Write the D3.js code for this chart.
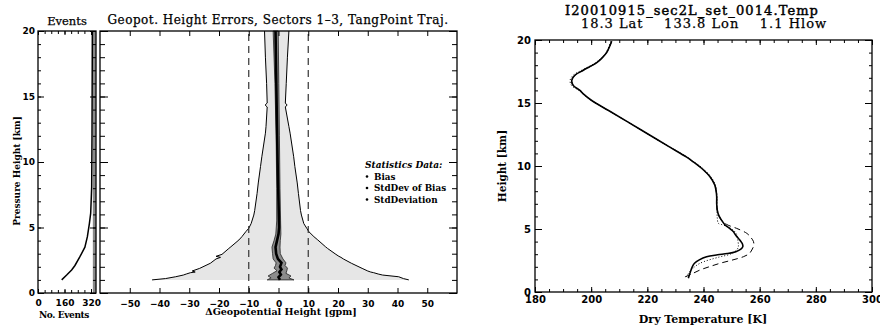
<!DOCTYPE html>
<html>
<head>
<meta charset="utf-8">
<script src="https://cdn.jsdelivr.net/npm/d3@7"></script>
<style>
body{margin:0;background:#fff}
svg text{fill:#000}
.tl{font-family:"DejaVu Sans",sans-serif;font-weight:bold;font-size:9px}
.ttl{font-family:"DejaVu Serif",serif;stroke:#000;stroke-width:0.25px}
.ax{font-family:"DejaVu Serif",serif;font-weight:bold;font-size:9px}
</style>
</head>
<body>
<script>
// ---- Events panel ----
const evHeights = [1.0, 1.37, 1.76, 2.1, 2.77, 3.5, 4.3, 5.3, 6.1, 8.1, 12.2, 20];
const evCounts  = [143, 173, 203, 223, 253, 283, 298, 310, 318, 324, 326, 328];
const evTotal = 340;
const evTicks = [0, 160, 320];

// ---- Geopotential height errors ----
const sdHeights = [1.0,1.1,1.24,1.37,1.45,1.55,1.6,1.68,1.88,2.27,2.6,2.72,2.8,2.95,3.4,3.53,4.05,4.3,4.68,4.94,5.3,5.95,6.3,7.6,8.4,9.65,10.4,12.2,12.7,14.2,14.35,14.5,16,18,20];
const sdLeft  = [-42.5,-38,-34.6,-32,-31,-29.6,-28,-29,-26.5,-22.9,-21,-19.5,-21,-19,-16.7,-16,-13.3,-12.3,-11,-10,-9.2,-8.3,-8.0,-7.2,-6.8,-6.05,-5.6,-4.4,-4.2,-3.8,-4.5,-3.8,-4.0,-4.4,-4.7];
const sdRight = [43.8,42,40.4,35,33.5,32,31,30,28.1,24.5,21.8,21.0,20.3,19.3,16.5,15.8,13.2,11.9,10.2,9.5,8.5,7.7,7.4,6.7,6.3,5.5,5.1,3.9,3.5,2.3,2.9,2.3,2.6,3.0,3.5];

const sdbHeights = [1.0,1.15,1.3,1.5,1.7,1.9,2.1,2.3,2.6,3.0,3.5,4.0,4.5,5.5,8,12,16,20];
const sdbLeft  = [-3.8,-2.5,-3.5,-2.0,-0.5,-1.5,-1.0,-0.8,-1.8,-2.0,-2.2,-1.5,-0.9,-0.6,-0.6,-0.8,-1.2,-1.8];
const sdbRight = [5.2,3.5,4.2,2.5,2.8,3.0,2.2,2.5,1.5,0.6,0.5,0.6,0.8,0.7,0.5,0.3,0.1,-0.1];

const biasHeights = [1.0,1.2,1.4,1.6,1.8,2.0,2.3,2.6,3.0,3.5,4.0,4.5,5.0,7,10,14,17,20];
const bias = [0.5,0.0,0.8,0.3,1.0,0.5,1.0,-0.2,-0.8,-1.0,-0.5,0.0,0.2,0.0,-0.3,-0.6,-0.8,-1.0];

const limits = [-10, 10];
const errTicks = [-50,-40,-30,-20,-10,0,10,20,30,40,50];
const legendItems = ["Bias", "StdDev of Bias", "StdDeviation"];

// ---- Temperature profile ----
const solidH = [1.09,1.5,2.0,2.28,2.55,2.8,2.95,3.05,3.2,3.4,3.6,3.85,4.1,4.5,4.8,5.05,5.3,5.7,6.1,6.5,7.0,7.56,8.0,8.5,9.15,9.8,10.3,10.7,11.5,12.5,13.5,14.4,15.2,15.7,16.0,16.4,16.8,17.2,17.6,18.2,18.6,19.0,19.5,19.9];
const solidT = [234.6,235.2,236.0,236.8,238.5,241.1,245,248.5,251.5,253.3,254.0,253.8,253.0,251.5,250.6,249.3,247.8,246.4,245.4,244.9,244.7,244.7,244.5,244.0,242.3,239.4,236.5,234.0,228.0,220.5,213.0,206.2,200.2,197.3,196.0,193.6,193.1,194.2,197.2,202,204,205.5,206.6,207.3];
const dotH = [1.2,1.74,2.26,2.77,3.0,3.33,3.6,4.0,4.66,5.0,5.2,5.35,5.45,5.9,6.5,7.56,8.5,9.15,9.8,10.3,10.7,12.5,14.4,15.2,16.0,16.4,16.8,17.2,17.6,18.2,19.0,19.9];
const dotT = [233.8,235.6,238.6,245.5,249.5,251.8,252.4,252.3,251.6,250,248.5,246.5,245.3,244.9,244.8,244.8,244.2,242.6,239.8,236.8,234.2,220.3,206.2,200.0,195.6,193.0,192.5,193.6,196.6,201.6,205.3,207.0];
const dashH = [1.2,1.4,1.75,2.0,2.28,2.55,2.8,3.05,3.33,3.7,4.0,4.35,4.66,5.05,5.3,5.5,5.7,6.1,6.5,7.0,7.56,8.0,8.5,9.15,9.8,10.3,10.7,11.5,12.5,13.5,14.4,15.2,15.7,16.0,16.4,16.8,17.2,17.6,18.2,18.6,19.0,19.5,19.9];
const dashT = [233.4,235.5,238.8,242,245.9,250.5,254.2,256.3,257.2,257.9,257.8,256.8,255.4,251.8,248.8,247.3,246.4,245.4,244.9,244.7,244.7,244.5,244.0,242.3,239.4,236.5,234.0,228.0,220.5,213.0,206.2,200.2,197.3,196.0,193.6,193.1,194.2,197.2,202,204,205.5,206.6,207.3];
const tempTicks = [180,200,220,240,260,280,300];
const hTicks = [0,5,10,15,20];

const W = 880, H = 328;
const svg = d3.select("body").append("svg").attr("width", W).attr("height", H);

// frame with inward ticks on all four sides
function frame(x, y, o) {
  const [x0, x1] = x.range(), [y0, y1] = y.range();
  const g = svg.append("g");
  const ax = (axis, tr) => {
    const a = g.append("g").attr("transform", tr).call(axis);
    a.select(".domain").remove();
    a.selectAll("line").attr("stroke", "#000");
    return a;
  };
  ax(d3.axisBottom(x).tickValues(o.xMinor).tickSize(-o.minLen).tickFormat(""), `translate(0,${y0})`);
  ax(d3.axisTop(x).tickValues(o.xMinor).tickSize(-o.minLen).tickFormat(""), `translate(0,${y1})`);
  ax(d3.axisLeft(y).tickValues(o.yMinor).tickSize(-o.minLen).tickFormat(""), `translate(${x0},0)`);
  ax(d3.axisRight(y).tickValues(o.yMinor).tickSize(-o.minLen).tickFormat(""), `translate(${x1},0)`);
  ax(d3.axisBottom(x).tickValues(o.xMajor).tickSize(-o.xLen).tickPadding(o.xPad).tickFormat(o.xFmt || null), `translate(0,${y0})`)
    .selectAll("text").attr("class", "tl").style("font-size", o.fs);
  ax(d3.axisTop(x).tickValues(o.xMajor).tickSize(-o.xLen).tickFormat(""), `translate(0,${y1})`);
  const yl = ax(d3.axisLeft(y).tickValues(o.yMajor).tickSize(-o.yLen).tickPadding(o.yPad).tickFormat(o.yFmt || null), `translate(${x0},0)`);
  yl.selectAll("text").attr("class", "tl").style("font-size", o.fs);
  ax(d3.axisRight(y).tickValues(o.yMajor).tickSize(-o.yLen).tickFormat(""), `translate(${x1},0)`);
  g.append("rect").attr("x", x0).attr("y", y1).attr("width", x1 - x0).attr("height", y0 - y1)
    .attr("fill", "none").attr("stroke", "#000").attr("stroke-width", 1.3);
}

// ===== Events panel =====
const yEv = d3.scaleLinear().domain([0, 20]).range([293, 31]);
const xEv = d3.scaleLinear().domain([0, 350]).range([38, 96]);
svg.append("line").attr("x1", xEv(evTotal)).attr("x2", xEv(evTotal)).attr("y1", yEv(0)).attr("y2", yEv(20))
  .attr("stroke", "#8a8a8a").attr("stroke-width", 3);
svg.append("path").datum(evHeights.map((h, i) => [evCounts[i], h]))
  .attr("d", d3.line().x(d => xEv(d[0])).y(d => yEv(d[1])))
  .attr("fill", "none").attr("stroke", "#000").attr("stroke-width", 1.5);
frame(xEv, yEv, {xMajor: evTicks, xMinor: d3.range(40, 350, 40), yMajor: hTicks, yMinor: d3.range(0, 21, 1),
  xLen: 4, yLen: 6, minLen: 3, xPad: 7, yPad: 3, fs: "9px", xFmt: d3.format("d"), yFmt: d3.format("d")});
svg.append("text").attr("class", "ttl").attr("x", 67).attr("y", 25).attr("text-anchor", "middle")
  .style("font-size", "11.5px").text("Events");
svg.append("text").attr("class", "ax").style("letter-spacing", "-0.4px").attr("x", 64).attr("y", 318)
  .attr("text-anchor", "middle").text("No. Events");
svg.append("text").attr("class", "ax").attr("transform", "translate(20,171) rotate(-90)").attr("text-anchor", "middle")
  .text("Pressure Height [km]");

// ===== Geopotential height error panel =====
const yE = d3.scaleLinear().domain([0, 20]).range([293, 31]);
const xE = d3.scaleLinear().domain([-60, 60]).range([100, 457]);
const sdData = sdHeights.map((h, i) => ({h, l: sdLeft[i], r: sdRight[i]}));
const sdbData = sdbHeights.map((h, i) => ({h, l: sdbLeft[i], r: sdbRight[i]}));
const area = d3.area().y(d => yE(d.h)).x0(d => xE(d.l)).x1(d => xE(d.r));
svg.append("path").datum(sdData).attr("d", area).attr("fill", "#e6e6e6");
const edge = k => d3.line().x(d => xE(d[k])).y(d => yE(d.h));
svg.append("path").datum(sdData).attr("d", edge("l")).attr("fill", "none").attr("stroke", "#000").attr("stroke-width", 1);
svg.append("path").datum(sdData).attr("d", edge("r")).attr("fill", "none").attr("stroke", "#000").attr("stroke-width", 1);
limits.forEach(v => svg.append("line").attr("x1", xE(v)).attr("x2", xE(v)).attr("y1", yE(0)).attr("y2", yE(20))
  .attr("stroke", "#333").attr("stroke-width", 1.2).attr("stroke-dasharray", "7,5"));
svg.append("path").datum(sdbData).attr("d", area).attr("fill", "#8c8c8c").attr("stroke", "#222").attr("stroke-width", 0.8);
svg.append("path").datum(biasHeights.map((h, i) => ({h, v: bias[i]})))
  .attr("d", d3.line().x(d => xE(d.v)).y(d => yE(d.h)))
  .attr("fill", "none").attr("stroke", "#000").attr("stroke-width", 2.6);
frame(xE, yE, {xMajor: errTicks, xMinor: [], yMajor: hTicks, yMinor: d3.range(0, 21, 1),
  xLen: 5, yLen: 8, minLen: 5, xPad: 8, yPad: 3, fs: "9px", xFmt: d3.format("d"), yFmt: () => ""});
svg.append("text").attr("class", "ttl").attr("x", 278).attr("y", 24).attr("text-anchor", "middle")
  .style("font-size", "12px").style("letter-spacing", "0.5px")
  .text("Geopot. Height Errors, Sectors 1\u20133, TangPoint Traj.");
svg.append("text").attr("class", "ax").style("font-size", "9.5px").attr("x", 281).attr("y", 315).attr("text-anchor", "middle")
  .text("\u0394Geopotential Height [gpm]");
const leg = svg.append("g").attr("transform", "translate(365,168)");
leg.append("text").attr("class", "ax").style("font-size", "9px").style("font-style", "italic").text("Statistics Data:");
legendItems.forEach((t, i) => {
  leg.append("circle").attr("cx", 2).attr("cy", 11.5 * (i + 1) - 3).attr("r", 1.3).attr("fill", "#000");
  leg.append("text").attr("class", "ax").style("font-size", "8.8px").attr("x", 9).attr("y", 11.5 * (i + 1)).text(t);
});

// ===== Temperature panel =====
const yT = d3.scaleLinear().domain([0, 20]).range([292, 40]);
const xT = d3.scaleLinear().domain([180, 300]).range([535, 872]);
const tLine = d3.line().x(d => xT(d[1])).y(d => yT(d[0])).curve(d3.curveCatmullRom.alpha(0.5));
svg.append("path").datum(dashH.map((h, i) => [h, dashT[i]])).attr("d", tLine)
  .attr("fill", "none").attr("stroke", "#000").attr("stroke-width", 1).attr("stroke-dasharray", "6,4");
svg.append("path").datum(dotH.map((h, i) => [h, dotT[i]])).attr("d", tLine)
  .attr("fill", "none").attr("stroke", "#000").attr("stroke-width", 1).attr("stroke-dasharray", "1,2");
svg.append("path").datum(solidH.map((h, i) => [h, solidT[i]])).attr("d", tLine)
  .attr("fill", "none").attr("stroke", "#000").attr("stroke-width", 1.6);
frame(xT, yT, {xMajor: tempTicks, xMinor: d3.range(180, 301, 5), yMajor: hTicks, yMinor: d3.range(0, 21, 1),
  xLen: 5, yLen: 7, minLen: 3, xPad: 4, yPad: 4, fs: "10px", xFmt: d3.format("d"), yFmt: d3.format("d")});
svg.append("text").attr("class", "ttl").attr("x", 692).attr("y", 15).attr("text-anchor", "middle")
  .style("font-size", "13px").style("letter-spacing", "1.1px").style("stroke-width", "0.45px")
  .text("I20010915_sec2L_set_0014.Temp");
svg.append("text").attr("class", "ttl").attr("x", 704).attr("y", 28).attr("text-anchor", "middle")
  .style("font-size", "13px").style("letter-spacing", "1px").style("white-space", "pre").attr("xml:space", "preserve")
  .text("18.3 Lat    133.8 Lon    1.1 Hlow");
svg.append("text").attr("class", "ax").style("font-size", "11px").attr("x", 703).attr("y", 323).attr("text-anchor", "middle")
  .text("Dry Temperature [K]");
svg.append("text").attr("class", "ax").style("font-size", "10.5px").attr("transform", "translate(506,166) rotate(-90)")
  .attr("text-anchor", "middle").text("Height [km]");
</script>
</body>
</html>
